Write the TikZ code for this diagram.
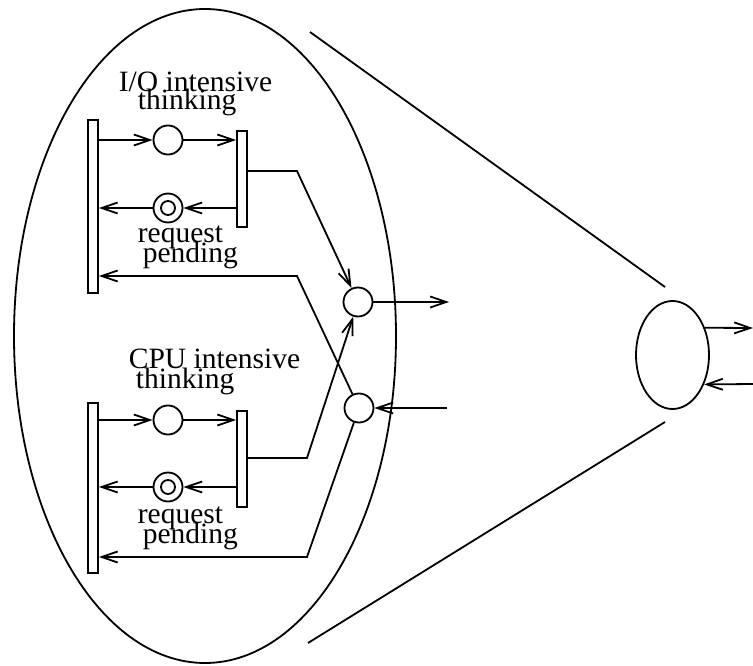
\documentclass[tikz,border=0pt]{standalone}
\usepackage{fontspec}
\setmainfont{Liberation Serif}
\usetikzlibrary{arrows.meta,shapes.geometric}
\begin{document}
\begin{tikzpicture}[x=1pt,y=-1pt,
  line width=1.8pt,
  arr/.style={-{Straight Barb[length=16pt,width=11pt,line width=1.8pt]}},
  bar/.style={draw,fill=white,rectangle,inner sep=0pt,minimum width=10pt},
  place/.style={draw,circle,inner sep=0pt,minimum size=29pt},
  token/.style={draw,circle,inner sep=0pt,minimum size=14pt},
  merge/.style={draw,circle,inner sep=0pt,minimum size=29pt},
  lbl/.style={inner sep=0pt,anchor=base west,font=\fontsize{29.5}{29.5}\selectfont}]
\useasboundingbox (0,0) rectangle (753,666);

% whole system and its abstraction
\node[draw,ellipse,inner sep=0pt,minimum width=382pt,minimum height=654pt] (sys) at (205,336) {};
\node[draw,ellipse,inner sep=0pt,minimum width=73pt,minimum height=108pt] (srv) at (672.5,355) {};
\coordinate (coneA1) at (310,32);
\coordinate (coneA2) at (665,287);
\coordinate (coneB1) at (308,643);
\coordinate (coneB2) at (665,422);
\draw (coneA1) -- (coneA2);
\draw (coneB1) -- (coneB2);
\coordinate (srvOut) at (753,328);
\coordinate (srvIn) at (753,384);
\draw[arr] (srv.40) -- (srvOut);
\draw[arr] (srvIn) -- (srv.-43);

% I/O intensive class
\node[bar,minimum height=173pt] (t1L) at (93,206.5) {};
\node[bar,minimum height=96pt] (t1R) at (242,179) {};
\node[place] (p1) at (168,140) {};
\node[place] (d1) at (168,208) {};
\node[token] (d1t) at (168,208) {};
\node[lbl] (l1a) at (118,92) {I/O intensive};
\node[lbl] (l1b) at (137,110) {thinking};
\node[lbl] (l1c) at (137,243) {request};
\node[lbl] (l1d) at (142,262) {pending};

% CPU intensive class
\node[bar,minimum height=170pt] (t2L) at (93,488) {};
\node[bar,minimum height=96pt] (t2R) at (242,459) {};
\node[place] (p2) at (168,420) {};
\node[place] (d2) at (168,487) {};
\node[token] (d2t) at (168,487) {};
\node[lbl] (l2a) at (128,368) {CPU intensive};
\node[lbl] (l2b) at (135,388) {thinking};
\node[lbl] (l2c) at (137,523) {request};
\node[lbl] (l2d) at (142,543) {pending};

% shared request / reply places
\node[merge] (m1) at (358,302) {};
\node[merge] (m2) at (359,408) {};
\coordinate (mOut) at (449,302);
\coordinate (mIn) at (447,408);
\draw[arr] (m1) -- (mOut);
\draw[arr] (mIn) -- (m2);

% bends of the long arcs
\coordinate (k1) at (297,171);
\coordinate (k2) at (297,276);
\coordinate (k3) at (307,458);
\coordinate (k4) at (307,557);

% arcs of the I/O class
\draw[arr] (t1L.east |- p1) -- (p1);
\draw[arr] (p1) -- (t1R.west |- p1);
\draw[arr] (t1R.west |- d1) -- (d1);
\draw[arr] (d1) -- (t1L.east |- d1);
\draw[arr] (t1R.east |- k1) -- (k1) -- (m1);
\draw[arr] (m2) -- (k2) -- (t1L.east |- k2);

% arcs of the CPU class
\draw[arr] (t2L.east |- p2) -- (p2);
\draw[arr] (p2) -- (t2R.west |- p2);
\draw[arr] (t2R.west |- d2) -- (d2);
\draw[arr] (d2) -- (t2L.east |- d2);
\draw[arr] (t2R.east |- k3) -- (k3) -- (m1);
\draw[arr] (m2) -- (k4) -- (t2L.east |- k4);
\end{tikzpicture}
\end{document}
